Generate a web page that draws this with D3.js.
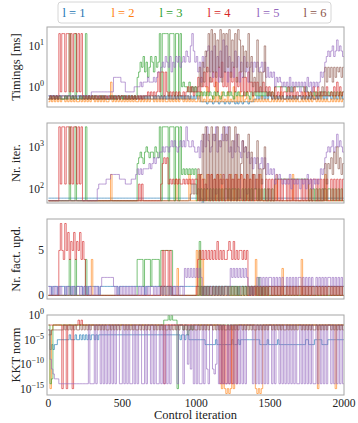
<!DOCTYPE html>
<html>
<head>
<meta charset="utf-8">
<script src="https://cdn.jsdelivr.net/npm/d3@7"></script>
<style>
  body { margin: 0; background: #fff; }
  text { font-family: "Liberation Serif", "DejaVu Serif", serif; }
</style>
</head>
<body>
<svg id="chart" width="358" height="423"></svg>
<script>
// one char = 10 control iterations, value = index into the panel's level list (base 36)
const SERIES = ["l = 1", "l = 2", "l = 3", "l = 4", "l = 5", "l = 6"];
const COLORS = ["#1f77b4", "#ff7f0e", "#2ca02c", "#d62728", "#9467bd", "#8c564b"];
const ITER_STEP = 10;
const X_TICKS = [0, 500, 1000, 1500, 2000];

const TIMING_LEVELS = [0.38, 0.43, 0.5, 0.6, 0.75, 1.0, 1.3, 1.7, 2.3, 3, 4, 5.5, 7.5, 10, 14, 20, 25];
const ITER_LEVELS = [40, 52, 60, 75, 100, 130, 170, 220, 300, 400, 550, 750, 1000, 1400, 2000, 3000];
const FACT_LEVELS = [0, 1, 2, 3, 4, 5, 6, 7, 8];
const KKT_LEVELS = [1, 1e-1, 1e-2, 1e-3, 1e-4, 1e-5, 1e-6, 1e-7, 1e-8, 1e-9, 1e-10, 1e-11, 1e-12, 1e-13, 1e-14, 1e-15, 1e-16];

const TIMINGS = [
  "3233232332 2323323232 3232332323 2332323232 3232323323 2323233232 3232323232 2323323232 3232232323 2323323232 3231111011 1011101110 1101110101 1011101112 2323232323 3232323232 2323232323 3232323232 2323232323 3232323232",
  "1212121212 2121212121 1212121212 2121212121 1261212121 2121212121 1212121212 2121212121 1212121212 2121212121 1314121512 1316131412 1412151314 1312412131 2121312121 1213121412 2121213121 1214121213 2121312121 1213121412",
  "2323232322 2323f232f2 23232f2323 2322232322 2232322323 2322323232 78a9b8a79b a8b9af3fff f3fff3ff3f 5655464545 3434343434 3243432343 3434324343 3343432434 3434343434 3435555555 5454545555 5554543434 3434343434 3434343434",
  "2323232f4f f4ff4f4ff4 f4f3232323 2323232323 2323232323 3232323232 3232333434 3434848838 4343434343 3434545434 4747585947 6858497a58 5848694758 4737484636 4645464535 3435343534 4353435343 3435343435 4353434353 3435363534",
  "3333333333 3333333333 3333333334 4444444444 4444777776 6644444455 5565666766 6767889a9b a9b8a9bab9 abacbadfca b8a6b9bcd8 c7d8b6c7e8 d6b8a7c9b6 a7b8a69a8a 9a89a8a797 8785767656 5657465656 4656475646 5656878abc bcdbcecdcb",
  "2323232323 3232323232 2323232323 3232323232 2323232323 3232323232 2323232323 3232323232 2323232323 3232324545 4595a6c8f6 g8f7e9g6f8 f9g7e9f6ge 8d7c9f6b57 4e4848d434 3232323232 2323232323 3232323232 2323454969 7969798979"
];

const ITERS = [
  "2222222222 2222222222 2222222222 2222222222 2222222222 2222222222 2222222222 2222222222 2222222222 2222222222 2222022222 2222222222 2222222222 2222222222 2222222222 2222222222 2222222222 2222222222 2222222222 2222222222",
  "1111111111 1111111111 1111111111 1111111111 1171111111 1111111111 1111111111 1111111111 1111116111 1111171111 1717161711 7161717161 1617161716 7161716171 1617111111 1111711111 1111171111 1111111111 1111111711 1111111111",
  "1111111111 1111f111f1 11111f1111 1111111111 1111111111 1111111111 9aba9bcbab bacbaf1fff f1fff1ff1f 7878787878 1414141414 1414141414 4141414141 1414141414 4141414141 1416666666 6666666666 6666661414 1414141414 4141414141",
  "1111111f5f f5ff5f5ff5 f5f1111111 1111111111 1111111111 1111111111 1515111111 11111159a9 a565656565 5656565656 6171615171 7161716171 6171617161 7161716171 6171611616 1616161616 6161616161 1616161616 6161616161 1616161616",
  "1111111111 1111111111 1111111111 1114555556 6677777766 6655556667 8787888898 9a9aabbcbc cbcdcdcbcd cdcfdccdcb bcadbecfdb cedfbdcedf dfbcadbecb adbcab9a8a 9a89a8a797 8785767656 5657465656 4656475646 5656878abc bcdbcecdcb",
  "1111111111 1111111111 1111111111 1111111111 1111111111 1111111111 1111111111 1111111111 1111111111 1111113535 3817e1f4e1 f1e3f1d5f1 e2f1d4f1e2 9d1c3e1b17 4d1858c114 1111111111 1111111111 1111111111 1111114959 8a7b9c8a79"
];

const FACT_UPD = [
  "1101110111 1011101101 1110110111 1111011111 1111111011 1111111111 1111101111 1111111111 1110111111 1111111111 1111011111 1111111111 1111111101 1111111111 1111011111 1111111111 1111111111 1111111111 1111111111 1111111111",
  "0000000000 0000000000 0000000004 0000000000 0000000000 0000000000 0000000000 0000000000 0000000300 0000000000 5050400000 0000000000 0000000000 0000000000 4000000000 0000000030 0000000000 0400000000 0000000000 0000000000",
  "0000000000 0000400040 0000040000 0000000000 0000000000 0000000000 4444144441 4444415555 5555000000 0000000000 0060101010 0101010101 1010101010 0101010101 1020101010 0000000000 0000000000 0000000000 0000000000 0000000000",
  "0000000585 4857465746 5746400000 0000000000 0000000000 0000000000 0000000000 0000001515 5151000000 0000000000 1454545454 5454645454 4565464545 5454500101 0101010101 1010101010 0101010101 1010101010 0101010101 1010101010",
  "1010101010 0101010101 1010101010 0101012222 2222101010 1010101010 0101010101 1010101010 0101010101 1032323232 3232010101 0101010101 1013232323 2323210101 1212121212 2121212121 1212121212 2121212121 1212121212 2121212121",
  "0000000000 0000000000 0000000000 0000000000 0000000000 0000000000 0000000000 0000001010 1010000000 0000000000 0101010101 0101010101 0101010101 0101010101 0101010101 0101010101 0101010101 0101010101 0101010101 0101010101"
];

const KKT = [
  "3767665555 5555455545 5454545454 4545444444 4444444444 4444444444 4444444444 4444444444 4444444445 4454455555 5555556666 6665666666 6666566656 5555555555 5556666656 6666656666 6666666666 6666556666 5555566665 5555555555",
  "3f32222222 2222222222 2222222222 2222222222 2222222222 2222222222 2222222222 2222222222 2222222222 2222222222 2222222222 2222222f2f gfgf2f2222 2222222222 fgfgf22222 2222222222 2222222222 2222222222 22f2222222 2222f22222",
  "2ed2222222 2222222222 2222222222 2222222222 2222222222 2222222222 2222222222 2222222211 1010111f22 2322432322 2222222222 2222222222 2222222222 2222222222 2222222222 2222222222 2222222222 2222222222 2222222222 2222222222",
  "222222222f 22f222f222 1212222222 2222222222 2222222222 2222222222 2222222222 22222222e2 2222222222 2222222222 2222222222 222222e2e2 e2e2e22e22 2222222222 2222222222 2222222222 2222222222 2222222222 2222222222 2222222222",
  "39bcdddeee eeeeeeeeee eeeeeee2ee e2e22e2e2e 2e2e2e22ee 2e2e2ee2e2 e22ee2e22e 2e2ee2e2e2 e2e2222e22 2e22a2b2e2 e2ee2e2be2 2bca2e2e2e e2e22e2e2e 2e2e2222e2 e2e2e2e2e2 2e2e22e2e2 e2e2e2e2ee 2e2e2e2e2e e2e2e2e2e2 2e2e2e2e2e",
  "4433333333 2323232323 3232323232 2323232323 3232323232 2323232323 3232323232 2323232323 3232323232 2323232323 3232323232 2323232323 3232323232 2323232323 3232323232 2323232323 3232323232 2323232323 3232323232 2323232323"
];

const svg = d3.select("#chart");
const left = 47, right = 344, panelH = 80;
const tops = [27, 123, 219, 315];

const x = d3.scaleLinear().domain([-10, 2000]).range([left, right]);

function parse(str, levels) {
  const chars = str.replace(/\s+/g, "");
  const pts = [];
  for (let i = 0; i < chars.length; i++) pts.push([i * ITER_STEP, levels[parseInt(chars[i], 36)]]);
  pts.push([chars.length * ITER_STEP, pts[pts.length - 1][1]]);
  return pts;
}

const panels = [
  { label: "Timings [ms]", data: TIMINGS, levels: TIMING_LEVELS, log: true, domain: [0.32, 29], ticks: [0, 1] },
  { label: "Nr. iter.", data: ITERS, levels: ITER_LEVELS, log: true, domain: [46, 3700], ticks: [2, 3] },
  { label: "Nr. fact. upd.", data: FACT_UPD, levels: FACT_LEVELS, log: false, domain: [-0.4, 8.5], ticks: [0, 5] },
  { label: "KKT norm", data: KKT, levels: KKT_LEVELS, log: true, domain: [Math.pow(10, -16.3), Math.pow(10, 0.05)], ticks: [0, -5, -10, -15] }
];

panels.forEach((p, k) => {
  const top = tops[k];
  const y = (p.log ? d3.scaleLog() : d3.scaleLinear()).domain(p.domain).range([top + panelH, top]);
  const g = svg.append("g");

  g.append("clipPath").attr("id", "clip" + k)
    .append("rect").attr("x", left).attr("y", top).attr("width", right - left).attr("height", panelH);

  const line = d3.line()
    .x(d => x(d[0]))
    .y(d => y(d[1]))
    .curve(d3.curveStepAfter);

  const plot = g.append("g").attr("clip-path", "url(#clip" + k + ")");
  p.data.forEach((s, i) => {
    plot.append("path")
      .attr("d", line(parse(s, p.levels)))
      .attr("fill", "none")
      .attr("stroke", COLORS[i])
      .attr("stroke-width", 0.9)
      .attr("stroke-opacity", 0.7);
  });

  g.append("rect")
    .attr("x", left).attr("y", top)
    .attr("width", right - left).attr("height", panelH)
    .attr("fill", "none").attr("stroke", "#a6a6a6").attr("stroke-width", 1);

  // y tick labels
  p.ticks.forEach(t => {
    const v = p.log ? Math.pow(10, t) : t;
    const txt = g.append("text")
      .attr("x", 44).attr("y", y(v) + 4)
      .attr("text-anchor", "end")
      .attr("font-size", 11.5)
      .attr("fill", "#222");
    if (p.log) {
      txt.append("tspan").text("10");
      txt.append("tspan").attr("dy", -5).attr("font-size", 8).text(t < 0 ? "\u2212" + (-t) : t);
    } else {
      txt.text(t);
    }
  });

  g.append("text")
    .attr("transform", "translate(20," + (top + panelH / 2) + ") rotate(-90)")
    .attr("text-anchor", "middle")
    .attr("font-size", 12.5)
    .attr("fill", "#222")
    .text(p.label);
});

// x axis labels on the last panel
X_TICKS.forEach(t => {
  svg.append("text")
    .attr("x", x(t)).attr("y", 407)
    .attr("text-anchor", "middle")
    .attr("font-size", 11.5)
    .attr("fill", "#222")
    .text(t);
});
svg.append("text")
  .attr("x", (left + right) / 2).attr("y", 419)
  .attr("text-anchor", "middle")
  .attr("font-size", 12.5)
  .attr("fill", "#222")
  .text("Control iteration");

// legend
const legend = svg.append("g");
legend.append("rect")
  .attr("x", 58).attr("y", 2).attr("width", 273).attr("height", 21).attr("rx", 3)
  .attr("fill", "#fff").attr("stroke", "#d6d6d6");
const legendX = [74, 123, 171, 219, 268, 315];
SERIES.forEach((s, i) => {
  legend.append("text")
    .attr("x", legendX[i]).attr("y", 17)
    .attr("text-anchor", "middle")
    .attr("font-size", 12.5)
    .attr("fill", COLORS[i])
    .text(s);
});
</script>
</body>
</html>
